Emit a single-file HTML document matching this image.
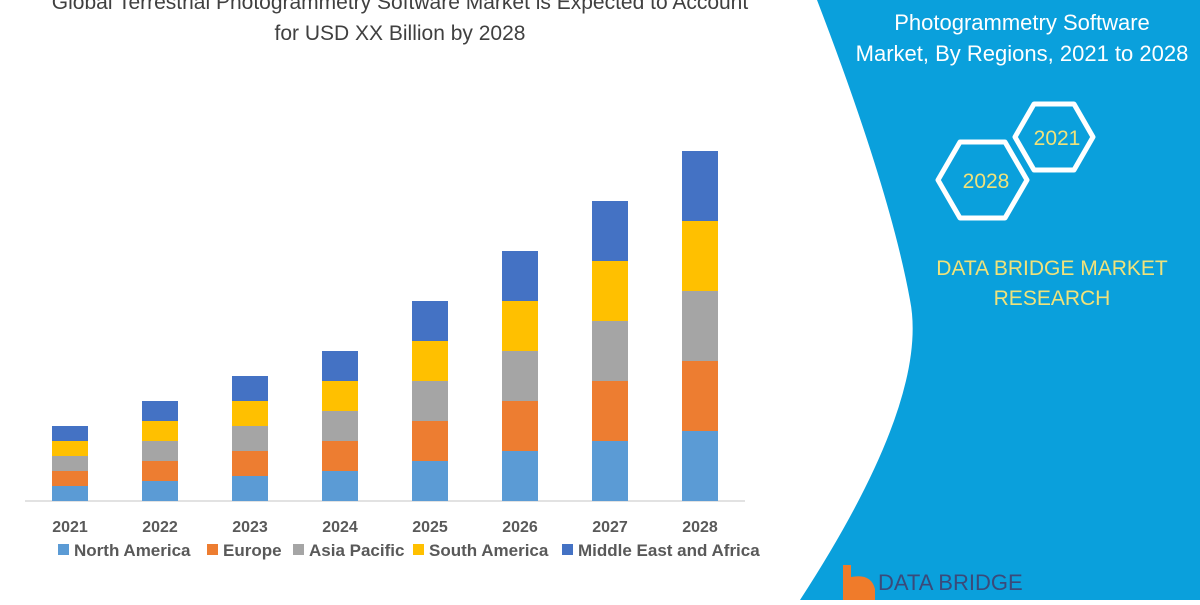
<!DOCTYPE html>
<html><head><meta charset="utf-8"><style>
body{margin:0;width:1200px;height:600px;overflow:hidden;background:#fff;font-family:"Liberation Sans",sans-serif}
</style></head><body>
<svg width="1200" height="600" xmlns="http://www.w3.org/2000/svg" font-family="Liberation Sans, sans-serif">
<rect width="1200" height="600" fill="#fff"/>
<path d="M817,0 L1200,0 L1200,600 L800,600 Q930,400 910,300 Q890,190 817,0 Z" fill="#0aa0dc"/>
<g font-size="21" fill="#404040" text-anchor="middle">
<text x="400" y="9">Global Terrestrial Photogrammetry Software Market is Expected to Account</text>
<text x="400" y="40">for USD XX Billion by 2028</text>
</g>
<g font-size="22" fill="#fff" text-anchor="middle">
<text x="1022" y="30">Photogrammetry Software</text>
<text x="1022" y="61">Market, By Regions, 2021 to 2028</text>
</g>
<polygon points="1015,137 1034,104 1074,104 1093,137 1074,170 1034,170" fill="none" stroke="#fff" stroke-width="5" stroke-linejoin="round"/>
<polygon points="938,180 960,142 1005,142 1027,180 1005,218 960,218" fill="none" stroke="#fff" stroke-width="5" stroke-linejoin="round"/>
<g font-size="21" fill="#f0e27a" text-anchor="middle">
<text x="1057" y="145">2021</text>
<text x="986" y="188">2028</text>
<text x="1052" y="275">DATA BRIDGE MARKET</text>
<text x="1052" y="305">RESEARCH</text>
</g>
<path d="M843,565 h8 v12 q20,-4 24,12 v11 h-32 z" fill="#f07b2a"/>
<text x="878" y="590" font-size="22" fill="#3a4a7a">DATA BRIDGE</text>
<line x1="25" y1="501" x2="745" y2="501" stroke="#d9d9d9" stroke-width="1.5"/>
<g id="bars"></g>
<g font-size="16" font-weight="bold" fill="#595959" text-anchor="middle">
<text x="70" y="532">2021</text><text x="160" y="532">2022</text><text x="250" y="532">2023</text><text x="340" y="532">2024</text><text x="430" y="532">2025</text><text x="520" y="532">2026</text><text x="610" y="532">2027</text><text x="700" y="532">2028</text>
</g>
<g font-size="17" font-weight="bold" fill="#595959">
<rect x="58" y="544" width="11" height="11" fill="#5b9bd5"/><text x="74" y="556">North America</text>
<rect x="207" y="544" width="11" height="11" fill="#ed7d31"/><text x="223" y="556">Europe</text>
<rect x="293" y="544" width="11" height="11" fill="#a5a5a5"/><text x="309" y="556">Asia Pacific</text>
<rect x="413" y="544" width="11" height="11" fill="#ffc000"/><text x="429" y="556">South America</text>
<rect x="562" y="544" width="11" height="11" fill="#4472c4"/><text x="578" y="556">Middle East and Africa</text>
</g>
</svg>
<script>
var g=document.getElementById('bars'),c=['#5b9bd5','#ed7d31','#a5a5a5','#ffc000','#4472c4'],s=[15,20,25,30,40,50,60,70],h='';
for(var i=0;i<8;i++){var x=52+90*i,y=501;for(var k=0;k<5;k++){y-=s[i];h+='<rect x="'+x+'" y="'+y+'" width="36" height="'+s[i]+'" fill="'+c[k]+'"/>';}}
g.innerHTML=h;
</script>
</body></html>
